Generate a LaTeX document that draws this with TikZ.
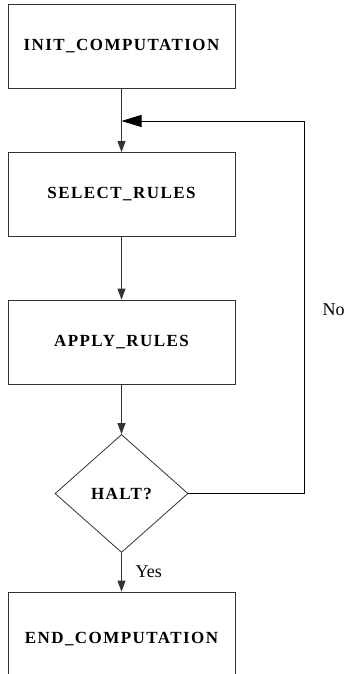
\documentclass[tikz,border=0pt]{standalone}
\usepackage{fontspec}
\setmainfont{Liberation Serif}
\newfontfamily\boxfont[LetterSpace=8.5]{Liberation Serif}
\usetikzlibrary{shapes.geometric,arrows.meta}
\tikzset{
  procbox/.style={draw=black!80, line width=0.8pt, minimum width=227pt, minimum height=84pt, inner sep=0pt,
    font=\boxfont\bfseries\fontsize{17}{20}\selectfont},
  decision/.style={draw=black!80, line width=0.8pt, diamond, aspect=1.127, minimum width=133pt, minimum height=118pt, inner sep=0pt,
    font=\boxfont\bfseries\fontsize{17}{20}\selectfont},
  flow/.style={draw=black!80, line width=0.8pt, -{Triangle[length=11pt,width=8pt]}},
  back/.style={draw=black, line width=0.8pt, -{Triangle[length=20pt,width=12pt]}},
  lbl/.style={font=\fontsize{18}{21}\selectfont, inner sep=0pt, anchor=west}
}
\begin{document}
\begin{tikzpicture}[x=1pt,y=-1pt]
\useasboundingbox (0,0) rectangle (344,674);
\clip (0,0) rectangle (344,674);
\node[procbox] (init) at (121.5,46) {INIT\_COMPUTATION};
\node[procbox] (select) at (121.5,194.5) {SELECT\_RULES};
\node[procbox] (apply) at (121.5,342) {APPLY\_RULES};
\node[decision] (halt) at (121.5,493.5) {HALT?};
\node[procbox, minimum height=94pt] (end) at (121.5,639) {END\_COMPUTATION};
\coordinate (merge) at (121.5,121);
\coordinate (corner1) at (304,493.5);
\coordinate (corner2) at (304,121);
\draw[flow] (init.south) -- (select.north);
\draw[flow] (select.south) -- (apply.north);
\draw[flow] (apply.south) -- (halt.north);
\draw[flow] (halt.south) -- (end.north);
\draw[back] (halt.east) -- (corner1) -- (corner2) -- (merge);
\node[lbl] (yes) at (135.5,572) {Yes};
\node[lbl] (no) at (322.5,310) {No};
\end{tikzpicture}
\end{document}
